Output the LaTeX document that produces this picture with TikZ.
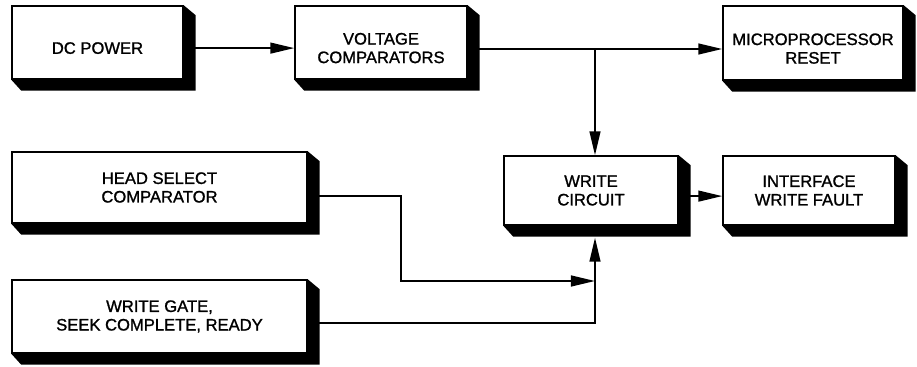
\documentclass[tikz,border=0pt]{standalone}
\usepackage{fontspec}
\setmainfont{Liberation Sans}[FakeBold=1.2]
\usetikzlibrary{arrows.meta, calc, backgrounds}
\newcommand{\dnline}[1]{\raisebox{-0.14cm}[\height][\depth]{#1}}

\begin{document}
\begin{tikzpicture}[x=0.025cm, y=-0.025cm, font=\fontsize{11.8}{13.2}\selectfont,
    blk/.style={draw, rectangle, fill=white, line width=1pt, align=center, inner sep=0pt},
    arr/.style={line width=1.4pt, -{Triangle[length=0.6cm, width=0.27cm]}}]
    \useasboundingbox (0,0) rectangle (917,367);
    % blocks
    \node[blk, minimum width=4.275cm, minimum height=1.825cm] (dc) at (97.5, 42.5) {\dnline{DC POWER}};
    \node[blk, minimum width=4.3cm, minimum height=1.825cm] (vc) at (381, 42.5) {\dnline{VOLTAGE}\\\dnline{COMPARATORS}};
    \node[blk, minimum width=4.5cm, minimum height=1.85cm] (mr) at (813, 43) {\dnline{MICROPROCESSOR}\\\dnline{RESET}};
    \node[blk, minimum width=4.35cm, minimum height=1.725cm] (wc) at (591, 190.5) {WRITE\\CIRCUIT};
    \node[blk, minimum width=4.3cm, minimum height=1.725cm] (iwf) at (809, 190.5) {INTERFACE\\WRITE FAULT};
    \node[blk, minimum width=7.375cm, minimum height=1.775cm] (hsc) at (159.5, 187.5) {HEAD SELECT\\COMPARATOR};
    \node[blk, minimum width=7.375cm, minimum height=1.825cm] (wg) at (159.5, 316.5) {WRITE GATE,\\SEEK COMPLETE, READY};
    % drop shadows
    \begin{scope}[on background layer]
        \foreach \n in {dc, vc, mr, wc, iwf, hsc, wg} {
            \fill (\n.north east) -- ++(12, 10) -- ($(\n.south east)+(12, 11)$)
                -- ($(\n.south west)+(10, 11)$) -- (\n.south west) -- cycle;
        }
    \end{scope}
    % connectors
    \coordinate (jn) at (595, 49);
    \coordinate (jh) at (595, 281);
    \draw[arr] ([yshift=-0.14cm]dc.east) -- ([yshift=-0.14cm]vc.west);
    \draw[arr] (vc.east |- jn) -- (mr.west |- jn);
    \draw[arr] (jn) -- (jn |- wc.north);
    \draw[arr] ([yshift=-0.14cm]wc.east) -- ([yshift=-0.14cm]iwf.west);
    \draw[arr] ([yshift=-0.21cm]hsc.east) -- ++(93, 0) |- (jh);
    \draw[arr] ([yshift=-0.16cm]wg.east) -| ($(jn |- wc.south)+(0, 12)$);
\end{tikzpicture}
\end{document}
